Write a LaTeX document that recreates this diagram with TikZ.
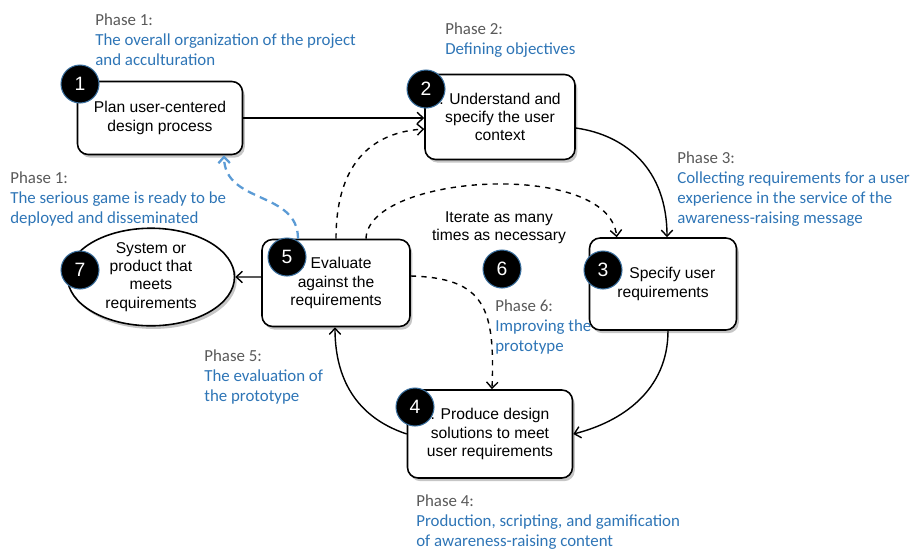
\documentclass[tikz,border=0pt]{standalone}
\usepackage{fontspec}
\setmainfont{Carlito}
\newfontfamily\boxfont{Liberation Sans}
\usetikzlibrary{shapes.geometric,shadows,arrows.meta}
\definecolor{phasegray}{HTML}{595959}
\definecolor{phaseblue}{HTML}{2E75B6}
\definecolor{backblue}{HTML}{5B9BD5}
\definecolor{badgeedge}{HTML}{3A6F9E}
\tikzset{
  procbox/.style = {
    draw, line width=0.9pt, rounded corners=6pt, fill=white, align=center,
    font=\boxfont\fontsize{8.9}{10.4}\selectfont,
    drop shadow={opacity=0.45, shadow xshift=1.3pt, shadow yshift=-1.8pt}
  },
  badge/.style = {
    circle, fill=black, draw=badgeedge, line width=0.6pt, minimum size=0.76cm,
    inner sep=0pt, text=white, font=\boxfont\fontsize{11}{11}\selectfont
  },
  phasetext/.style = {
    anchor=north west, align=left, inner sep=0pt, text=phaseblue,
    font=\fontsize{9.6}{11.4}\selectfont
  },
  flow/.style = {line width=0.8pt, -{Straight Barb[length=3.5pt,width=6.5pt]}},
  iterflow/.style = {flow, dashed},
  backflow/.style = {line width=1.3pt, backblue, dash pattern=on 4.5pt off 3pt,
    -{Straight Barb[length=3.5pt,width=6.5pt]}},
}

\begin{document}
\begin{tikzpicture}[x=0.02cm,y=-0.02cm]
  \useasboundingbox (0,0) rectangle (913,549);
  % process boxes
  \node[procbox,minimum width=3.3cm,minimum height=1.46cm] (plan) at (160,118) {Plan user-centered\\design process};
  \node[procbox,minimum width=3.0cm,minimum height=1.7cm] (understand) at (500,117) {. Understand and\\specify the user\\context};
  \node[procbox,minimum width=2.94cm,minimum height=1.84cm] (specify) at (663,284) {\hspace*{1.2em}Specify user\\requirements};
  \node[procbox,minimum width=3.3cm,minimum height=1.76cm] (produce) at (490,434) {. Produce design\\solutions to meet\\user requirements};
  \node[procbox,minimum width=2.96cm,minimum height=1.74cm] (evaluate) at (336,283) {. Evaluate\\against the\\requirements};
  \node[procbox,ellipse,rounded corners=0pt,inner sep=0pt,minimum width=3.34cm,minimum height=1.8cm] (system) at (151,277) {System or\\product that\\meets\\requirements};
  % main cycle
  \draw[flow] (plan.east) -- (understand.west |- plan.east);
  \draw[flow] ([yshift=-0.22cm]understand.east) .. controls +(50,7) and +(0,-68) .. ([xshift=0.08cm]specify.north);
  \draw[flow] ([xshift=0.1cm]specify.south) .. controls +(0,60) and +(48,-12) .. (produce.east);
  \draw[flow] (produce.west) .. controls +(-57,-19) and +(0,43) .. ([xshift=-0.02cm]evaluate.south);
  \draw[flow] ([yshift=0.12cm]evaluate.west) -- (system.east);
  % iterations
  \draw[iterflow] (evaluate.north) .. controls +(0,-80) and +(-48,3) .. ([yshift=-0.24cm]understand.west);
  \draw[iterflow] ([xshift=0.6cm]evaluate.north) .. controls +(2,-65) and +(-8,-78) .. ([xshift=0.56cm]specify.north west);
  \draw[iterflow] ([yshift=0.14cm]evaluate.east) .. controls +(75,2) and +(3,-80) .. ([xshift=0.04cm]produce.north);
  \draw[backflow] ([xshift=-0.76cm]evaluate.north) .. controls +(0,-48) and +(1,49) .. ([xshift=1.28cm]plan.south);
  \node[align=center,font=\boxfont\fontsize{8.9}{10.4}\selectfont] (iterate) at (499,228) {Iterate as many\\times as necessary};
  % numbers
  \foreach \n/\x/\y in {1/80/84,2/426/89,3/603/270,4/415/407,5/287/257,6/502/269,7/80/270} {%
    \node[badge] (badge\n) at (\x,\y) {\n};
  }
  % phases
  \node[phasetext] (phase1) at (95,13) {\textcolor{phasegray}{Phase 1:}\\The overall organization of the project\\and acculturation};
  \node[phasetext] (phase2) at (445,22) {\textcolor{phasegray}{Phase 2:}\\Defining objectives};
  \node[phasetext] (phase3) at (677,151) {\textcolor{phasegray}{Phase 3:}\\Collecting requirements for a user\\experience in the service of the\\awareness-raising message};
  \node[phasetext] (phase1b) at (10,171) {\textcolor{phasegray}{Phase 1:}\\The serious game is ready to be\\deployed and disseminated};
  \node[phasetext] (phase6) at (495,299) {\textcolor{phasegray}{Phase 6:}\\Improving the\\prototype};
  \node[phasetext] (phase5) at (204,349) {\textcolor{phasegray}{Phase 5:}\\The evaluation of\\the prototype};
  \node[phasetext] (phase4) at (416,494) {\textcolor{phasegray}{Phase 4:}\\Production, scripting, and gamification\\of awareness-raising content};
\end{tikzpicture}
\end{document}
